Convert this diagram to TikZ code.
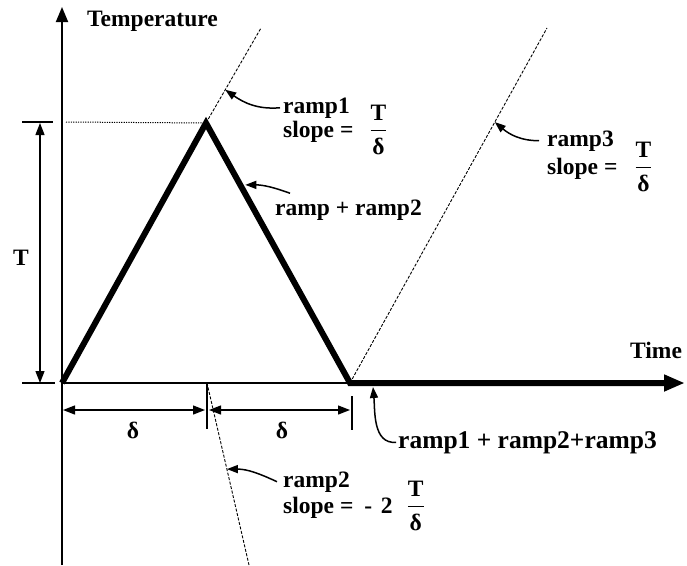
\documentclass[tikz,border=0pt]{standalone}
\usepackage{amsmath}
\usepackage{fontspec}
\setmainfont{Liberation Serif}
\usetikzlibrary{arrows.meta}
\newcommand\myfrac[2]{\ensuremath{\genfrac{}{}{1.2pt}{0}{\mbox{#1}}{\mbox{#2}}}}
\begin{document}
\begin{tikzpicture}[x=1pt,y=-1pt,
  font=\fontsize{23.5}{26}\selectfont\bfseries,
  txt/.style={anchor=base west, inner sep=0pt},
  axisline/.style={line width=1.8pt},
  heavyline/.style={line width=6pt, line join=miter},
  guide/.style={line width=0.9pt, dash pattern=on 3pt off 1.6pt},
  dotline/.style={line width=1pt, dash pattern=on 1.2pt off 1.2pt},
  dimline/.style={line width=1.3pt, {Triangle[length=12pt,width=9pt]}-{Triangle[length=12pt,width=9pt]}},
  tickline/.style={line width=1.3pt},
  callout/.style={line width=1.5pt, -{Triangle[length=11pt,width=8pt]}}]
\useasboundingbox (0,0) rectangle (687,565);

% key points
\coordinate (O) at (62,383);
\coordinate (P) at (206,123);
\coordinate (Q) at (350,383);
\coordinate (Ytop) at (62,7);
\coordinate (Ybot) at (62,565);
\coordinate (Xend) at (684,383);
\coordinate (Hend) at (668,383);
\coordinate (R1top) at (261,28);
\coordinate (R2a) at (207,383);
\coordinate (R2bot) at (249,565);
\coordinate (R3top) at (547,28);
\coordinate (Dl) at (66,122);
\coordinate (Ttop) at (40,123);
\coordinate (Tbot) at (40,383);
\coordinate (Tt1) at (22,122);
\coordinate (Tt2) at (53,122);
\coordinate (Tb1) at (22,383);
\coordinate (Tb2) at (55,383);
\coordinate (D1a) at (63,410);
\coordinate (D1b) at (205,410);
\coordinate (D2a) at (209,410);
\coordinate (D2b) at (350,410);
\coordinate (K1a) at (207,383);
\coordinate (K1b) at (207,429);
\coordinate (K2a) at (352,396);
\coordinate (K2b) at (352,430);
\coordinate (A5) at (373,387);

% points where callouts touch
\path (P) -- (R1top) coordinate[pos=0.35] (A1);
\path (P) -- (Q) coordinate[pos=0.238] (A2b);
\coordinate (A2) at ([xshift=5pt]A2b);
\path (Q) -- (R3top) coordinate[pos=0.735] (A3);
\path (R2a) -- (R2bot) coordinate[pos=0.473] (A4);

% axes
\draw[axisline, -{Triangle[length=15pt,width=12pt]}] (Ybot) -- (Ytop);
\draw[axisline, -{Triangle[length=20pt,width=17pt]}] (O) -- (Xend);

% guide lines
\draw[dotline] (Dl) -- (P);
\draw[guide] (P) -- (R1top);
\draw[guide] (R2a) -- (R2bot);
\draw[guide] (Q) -- (R3top);

% the result
\draw[heavyline] (O) -- (P) -- (Q) -- (Hend);

% dimensions
\draw[tickline] (Tt1) -- (Tt2);
\draw[tickline] (Tb1) -- (Tb2);
\draw[dimline] (Ttop) -- (Tbot);
\draw[dimline] (D1a) -- (D1b);
\draw[dimline] (D2a) -- (D2b);
\draw[tickline] (K1a) -- (K1b);
\draw[tickline] (K2a) -- (K2b);

% texts
\node[txt] (temp) at (87,26) {Temperature};
\node[txt] (time) at (630,358) {Time};
\node (Tl) at (21,258) {T};
\node (d1) at (133,430) {δ};
\node (d2) at (282,430) {δ};
\node[txt] (r1) at (283,113) {ramp1};
\node[txt] (s1) at (283,137) {slope =\hspace{16pt}\myfrac{T}{δ}};
\node[txt] (rr) at (275,215) {ramp + ramp2};
\node[txt] (r3) at (547,146) {ramp3};
\node[txt] (s3) at (547,174) {slope =\hspace{17pt}\myfrac{T}{δ}};
\node[txt] (r2) at (283,487) {ramp2};
\node[txt] (s2) at (283,513) {slope =\hspace{5pt} -\hspace{3pt} 2\hspace{14pt}\myfrac{T}{δ}};
\node[txt, font=\fontsize{25.5}{28}\selectfont\bfseries] (rs) at (398,448) {ramp1 + ramp2+ramp3};

% callouts
\draw[callout] ([xshift=-3pt]r1.west) to[out=185,in=-35] (A1);
\draw[callout] ([xshift=15pt,yshift=6pt]rr.north west) to[out=160,in=0] (A2);
\draw[callout] ([xshift=-8pt]r3.west) to[out=180,in=-40] (A3);
\draw[callout] ([xshift=-6pt]r2.west) to[out=155,in=0] (A4);
\draw[callout] ([xshift=-2pt]rs.west) to[out=185,in=-85] (A5);
\end{tikzpicture}
\end{document}
